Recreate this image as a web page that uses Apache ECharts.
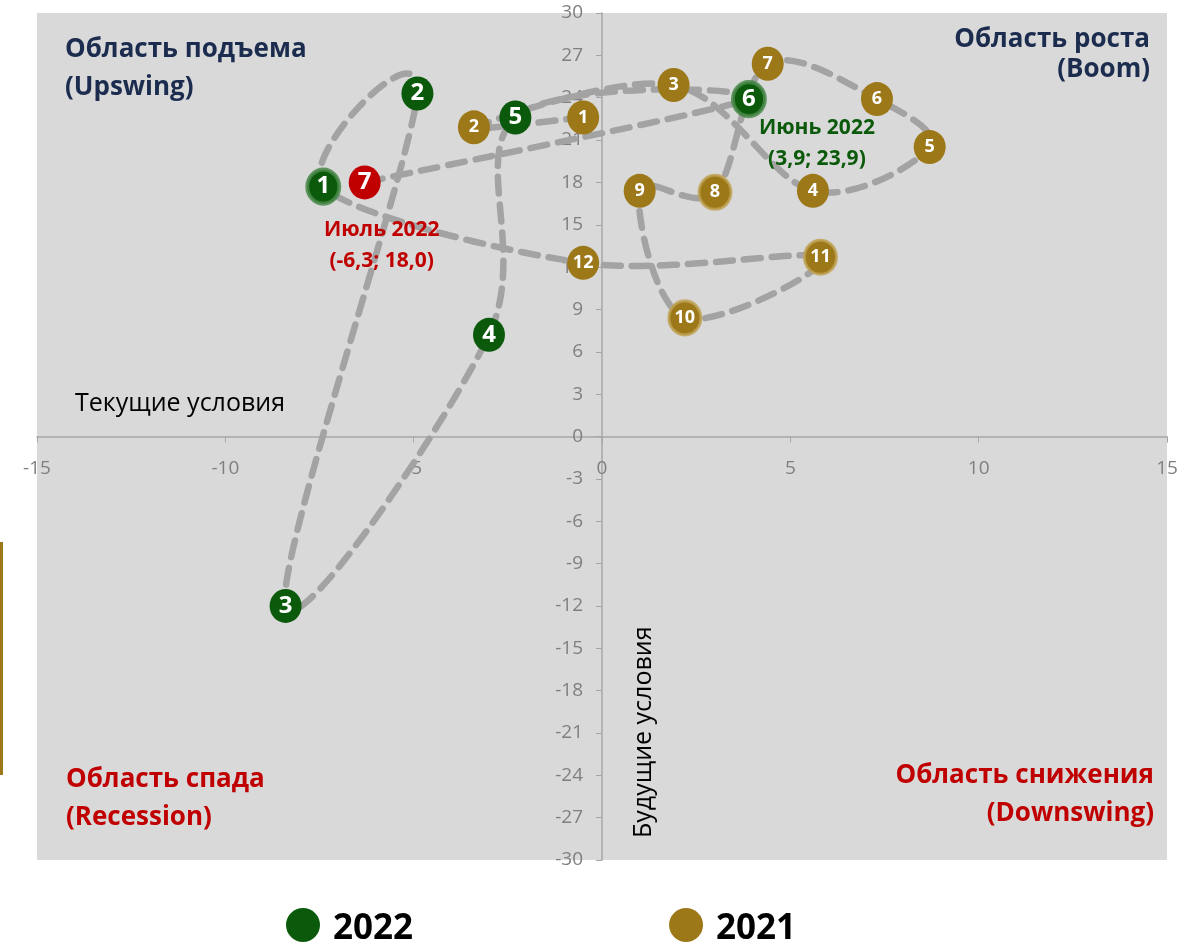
<!DOCTYPE html>
<html>
<head>
<meta charset="utf-8">
<script src="https://cdn.jsdelivr.net/npm/echarts@6/dist/echarts.min.js"></script>
<style>
  html, body { margin: 0; padding: 0; background: #fff; }
  #chart { width: 1181px; height: 945px; }
</style>
</head>
<body>
<div id="chart"></div>
<script>
// 2021: месяцы 1..12 (текущие условия, будущие условия)
var months2021 = ['1', '2', '3', '4', '5', '6', '7', '8', '9', '10', '11', '12'];
var x2021 = [-0.5, -3.4, 1.9, 5.6, 8.7, 7.3, 4.4, 3.0, 1.0, 2.2, 5.8, -0.5];
var y2021 = [22.6, 21.9, 24.9, 17.4, 20.5, 23.9, 26.4, 17.3, 17.4, 8.4, 12.7, 12.3];

// 2022: месяцы 1..7 (последний - июль, выделен красным)
var months2022 = ['1', '2', '3', '4', '5', '6', '7'];
var x2022 = [-7.4, -4.9, -8.4, -3.0, -2.3, 3.9, -6.3];
var y2022 = [17.7, 24.3, -12.0, 7.2, 22.6, 23.9, 18.0];

var xRange = [-15, 15, 5];   // min, max, шаг
var yRange = [-30, 30, 3];

var green = '#0b5a0b';
var gold = '#9c7818';
var red = '#c00000';
var navy = '#1b2c4e';
var font = 'Open Sans';

function fmt(v) { return v.toFixed(1).replace('.', ','); }

var path = [];
for (var i = 0; i < months2021.length; i++) path.push([x2021[i], y2021[i]]);
for (var j = 0; j < months2022.length; j++) path.push([x2022[j], y2022[j]]);

var ringed2021 = ['8', '10', '11'];
var pts2021 = months2021.map(function (m, i) {
  var d = { value: [x2021[i], y2021[i]], name: m };
  if (ringed2021.indexOf(m) >= 0) d.itemStyle = { borderColor: 'rgba(190,160,80,0.8)', borderWidth: 3 };
  return d;
});
var pts2022 = months2022.slice(0, 6).map(function (m, i) {
  var d = { value: [x2022[i], y2022[i]], name: m };
  if (i === 0 || i === 5) d.itemStyle = { borderColor: 'rgba(70,135,70,0.85)', borderWidth: 4 };
  return d;
});
var last = months2022.length - 1;
var ptJul = [{ value: [x2022[last], y2022[last]], name: months2022[last] }];
var ptJun = [x2022[5], y2022[5]];

// сетка 37..1167 x 13..860, оси проходят через ноль
var gridL = 37, gridR = 14, gridT = 13, gridB = 85;
var gw = 1181 - gridL - gridR, gh = 945 - gridT - gridB;

var quadFont = 'bold 26px "Open Sans"';

// сглаженная линия как в Excel (касательные (P[i+1]-P[i-1])/6)
function renderPath(params, api) {
  if (params.dataIndex !== 0) return null;
  var p = path.map(function (v) { return api.coord(v); });
  var n = p.length;
  var d = 'M' + p[0][0] + ' ' + p[0][1];
  for (var k = 0; k < n - 1; k++) {
    var a = p[Math.max(k - 1, 0)], b = p[k], c = p[k + 1], e = p[Math.min(k + 2, n - 1)];
    var c1x = b[0] + (c[0] - a[0]) / 6, c1y = b[1] + (c[1] - a[1]) / 6;
    var c2x = c[0] - (e[0] - b[0]) / 6, c2y = c[1] - (e[1] - b[1]) / 6;
    d += ' C' + c1x + ' ' + c1y + ' ' + c2x + ' ' + c2y + ' ' + c[0] + ' ' + c[1];
  }
  return {
    type: 'path',
    shape: { pathData: d },
    style: { fill: 'none', stroke: '#a3a3a3', lineWidth: 6.5, lineDash: [17, 11], lineCap: 'round' },
    silent: true
  };
}

var chart = echarts.init(document.getElementById('chart'));
chart.setOption({
  animation: false,
  textStyle: { fontFamily: font },
  grid: { left: gridL, right: gridR, top: gridT, bottom: gridB, show: true, backgroundColor: '#d9d9d9', borderWidth: 0 },
  xAxis: {
    type: 'value', min: xRange[0], max: xRange[1], interval: xRange[2],
    offset: -gh / 2,
    splitLine: { show: false },
    axisLine: { onZero: false, lineStyle: { color: '#a6a6a6', width: 1.5 } },
    axisTick: { show: true, length: 6, lineStyle: { color: '#a6a6a6' } },
    axisLabel: { color: '#7f7f7f', fontSize: 19, margin: 23 }
  },
  yAxis: {
    type: 'value', min: yRange[0], max: yRange[1], interval: yRange[2],
    offset: -gw / 2,
    splitLine: { show: false },
    axisLine: { onZero: false, lineStyle: { color: '#a6a6a6', width: 1.5 } },
    axisTick: { show: true, length: 6, lineStyle: { color: '#a6a6a6' } },
    axisLabel: { color: '#7f7f7f', fontSize: 19, margin: 19 }
  },
  legend: {
    data: ['2022', '2021'],
    left: 286, top: 908, padding: 0,
    itemWidth: 34, itemHeight: 35, itemGap: 256,
    icon: 'circle',
    formatter: '{t|{name}}',
    textStyle: {
      rich: { t: { fontSize: 35, fontWeight: 'bold', color: '#000', fontFamily: font, padding: [9, 0, 0, 8] } }
    }
  },
  series: [
    {
      name: 'path', type: 'custom', data: path, renderItem: renderPath, z: 1,
      encode: { x: 0, y: 1 }, silent: true, clip: false
    },
    {
      name: '2021', type: 'scatter', data: pts2021, symbolSize: [32, 34], z: 3,
      itemStyle: { color: gold, opacity: 1 },
      label: { show: true, position: 'inside', formatter: '{b}', color: '#fff', fontSize: 18, fontWeight: 'bold' }
    },
    {
      name: '2022', type: 'scatter', data: pts2022, symbolSize: [32, 34], z: 4,
      itemStyle: { color: green, opacity: 1 },
      label: { show: true, position: 'inside', formatter: '{b}', color: '#fff', fontSize: 24, fontWeight: 'bold' }
    },
    {
      name: 'Июль', type: 'scatter', data: ptJul, symbolSize: [32, 34], z: 4,
      itemStyle: { color: red, opacity: 1 },
      label: { show: true, position: 'inside', formatter: '{b}', color: '#fff', fontSize: 24, fontWeight: 'bold' }
    },
    {
      name: 'annot', type: 'scatter', symbolSize: 0, z: 5, silent: true,
      itemStyle: { opacity: 1 },
      data: [
        { value: ptJul[0].value, label: { offset: [17, 63], color: red,
          formatter: 'Июль 2022\n(' + fmt(x2022[last]) + '; ' + fmt(y2022[last]) + ')' } },
        { value: ptJun, label: { offset: [68, 44], color: green,
          formatter: 'Июнь 2022\n(' + fmt(x2022[5]) + '; ' + fmt(y2022[5]) + ')' } }
      ],
      label: { show: true, position: 'inside', fontSize: 21, fontWeight: 'bold', lineHeight: 31, align: 'center' }
    }
  ],
  graphic: [
    { type: 'text', x: 65, y: 31, style: { text: 'Область подъема\n(Upswing)', fill: navy, font: quadFont, lineHeight: 38 } },
    { type: 'text', x: 1150, y: 25, style: { text: 'Область роста\n(Boom)', fill: navy, font: quadFont, lineHeight: 30, align: 'right', textAlign: 'right' } },
    { type: 'text', x: 66, y: 761, style: { text: 'Область спада\n(Recession)', fill: red, font: quadFont, lineHeight: 38 } },
    { type: 'text', x: 1154, y: 757, style: { text: 'Область снижения\n(Downswing)', fill: red, font: quadFont, lineHeight: 38, align: 'right', textAlign: 'right' } },
    { type: 'text', x: 75, y: 391, style: { text: 'Текущие условия', fill: '#000', font: '25px "Open Sans"' } },
    { type: 'text', x: 631, y: 838, rotation: Math.PI / 2, style: { text: 'Будущие условия', fill: '#000', font: '25px "Open Sans"' } },
    { type: 'rect', shape: { x: 0, y: 542, width: 3, height: 233 }, style: { fill: gold } }
  ]
});
</script>
</body>
</html>
